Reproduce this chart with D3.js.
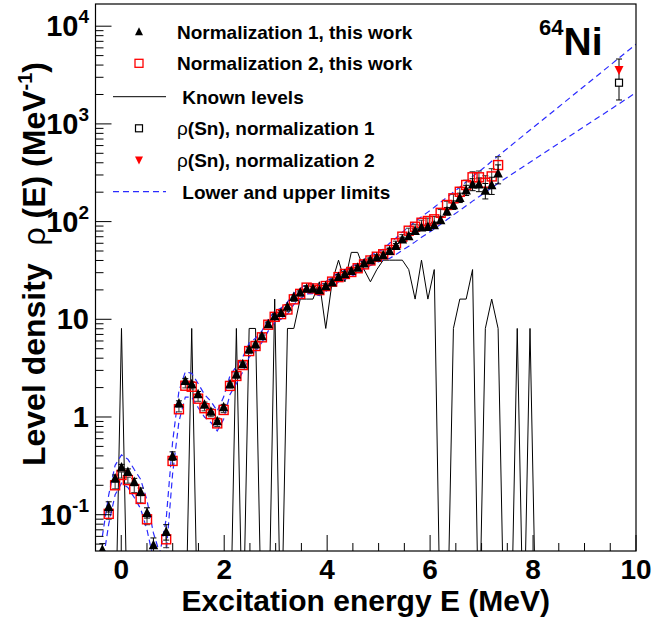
<!DOCTYPE html>
<html><head><meta charset="utf-8">
<script src="https://cdn.jsdelivr.net/npm/d3@7"></script>
<style>
body{margin:0;background:#fff}
svg{display:block}
text{font-family:"Liberation Sans",Arial,Helvetica,sans-serif;font-weight:bold;fill:#000}
</style>
</head><body>
<svg id="c" width="652" height="621"></svg>
<script>
// ---------- data ----------
const binE = [-0.367,-0.243,-0.119,0.005,0.129,0.253,0.377,0.501,0.625,0.749,0.873,0.997,1.121,1.245,1.369,1.493,1.617,1.741,1.865,1.989,2.113,2.237,2.361,2.485,2.609,2.733,2.857,2.981,3.105,3.229,3.353,3.477,3.601,3.725,3.849,3.973,4.097,4.221,4.345,4.469,4.593,4.717,4.841,4.965,5.089,5.213,5.337,5.461,5.585,5.709,5.833,5.957,6.081,6.205,6.329,6.453,6.577,6.701,6.825,6.949,7.073,7.197,7.321,7.445,7.569,7.693,7.817,7.941,8.065,8.189,8.313];
const norm1 = [0.044,0.121,0.236,0.306,0.275,0.218,0.172,0.105,0.049,null,0.067,0.40,1.38,2.35,2.18,1.72,1.34,1.14,0.91,1.27,2.18,2.74,3.49,4.93,5.59,6.75,8.95,10.8,11.7,13.5,17,18.9,20.7,20.7,19.9,21.9,23.9,27.3,29.1,31.4,34,37.4,40.5,43.1,45.5,50.4,56.7,65.9,71.2,80.7,87.4,88.6,92.2,104,128,148,176,210,241,241,208,237,312];
const norm2 = [null,0.102,0.20,0.255,0.226,0.183,0.145,0.0897,null,null,0.056,0.355,1.2,2.09,2.04,1.54,1.23,1.07,0.86,1.18,2.08,2.63,3.4,4.73,5.33,6.54,8.8,10.6,11.3,12.6,16.0,18.2,21.1,20.7,19.9,21.9,24.3,27,29.1,30.5,33.3,36.5,40,43.7,46.3,51.2,60,70.1,80.7,88.6,97.4,101.4,105.5,123,148,173,202,237,284,284,250,290,379];
const relErr = [0.15,0.12,0.08,0.07,0.07,0.08,0.09,0.12,0.18,0,0.18,0.10,
  0.06,0.05,0.05,0.06,0.06,0.06,0.07,0.06,0.05,0.05,0.05,0.05,0.05,0.05,0.05,0.05,0.05,0.05,
  0.05,0.05,0.05,0.05,0.05,0.05,0.05,0.05,0.05,0.05,0.05,0.05,0.05,0.05,0.05,0.05,0.05,0.05,
  0.06,0.06,0.06,0.07,0.07,0.08,0.09,0.10,0.11,0.12,0.14,0.16,0.18,0.20,0.22];
const upperLim = [0.06,0.16,0.32,0.41,0.37,0.29,0.23,0.14,0.065,0.04,0.09,0.55,1.85,2.9,2.8,2.2,1.7,1.45,1.15,1.6,2.65,3.3,4.1,5.7,6.4,7.6,10,12.1,13,15,18.5,20.5,23.3,23,22.2,24.4,26.8,30,32.3,34.5,37.5,41,45,48.5,52,60,68,78,88,100,112,125,140,158,178,200,225,255,290,325,365,415,470];
const lowerLim = [0.03,0.08,0.16,0.21,0.19,0.15,0.115,0.07,0.035,0.02,0.04,0.26,0.9,1.6,1.6,1.25,1.0,0.88,0.72,0.95,1.7,2.2,2.9,4.1,4.7,5.8,7.6,9.3,10,11.3,14.2,16.2,18.2,18.3,17.5,19.3,21.3,24,25.7,27.3,30,32.6,35.5,38,40.5,42,46,51,56,62,69,76,84,94,105,117,130,145,162,180,200,222,247];
const limitEndE = 10, upperEnd = 6530, lowerEnd = 2089;
const knownLevels = [0,0,0,8.06,0,0,0,0,0,0,0,0,0,0,8.06,0,0,0,0,0,0,8.06,0,8.06,8.06,0,0,16.1,0,8.06,8.06,16.1,16.1,16.1,24.2,8.06,24.2,40.3,24.2,48.4,48.4,32.3,24.2,32.3,40.3,40.3,40.3,40.3,32.3,16.1,40.3,16.1,32.3,0,0,8.06,16.1,16.1,32.3,0,8.06,16.1,8.06,0,0,8.06,0,8.06,0,0,0];
const snE = 9.67, snNorm1 = 2640, snNorm2 = 3560, snLow = 1757, snHigh = 4614;
const xTicks = [0,2,4,6,8,10];
const yTicks = [0.1,1,10,100,1000,10000];
const yTickLabels = [["10","-1"],["1",""],["10",""],["10","2"],["10","3"],["10","4"]];
const legendItems = [
  {label:"Normalization 1, this work", kind:"tri"},
  {label:"Normalization 2, this work", kind:"sqRed"},
  {label:" Known levels", kind:"line"},
  {label:"ρ(Sn), normalization 1", kind:"sqBlack"},
  {label:"ρ(Sn), normalization 2", kind:"triDown"},
  {label:" Lower and upper limits", kind:"dash"}
];

// ---------- layout ----------
const M = {l:95.5, r:636, t:4, b:551};
const BLUE = "#2b2bff", RED = "#ff0000";
const x = d3.scaleLinear().domain([-0.5,10]).range([M.l,M.r]);
const y = d3.scaleLog().domain([0.0425,16874]).range([M.b,M.t]);
const svg = d3.select("#c");
svg.append("rect").attr("width",652).attr("height",621).attr("fill","#fff");
svg.append("defs").append("clipPath").attr("id","clip").append("rect")
  .attr("x",M.l).attr("y",M.t).attr("width",M.r-M.l).attr("height",M.b-M.t);
const plot = svg.append("g").attr("clip-path","url(#clip)");

// known levels
const floorVal = 0.004;
const kd = binE.map((e,i)=>[e, knownLevels[i]>0?knownLevels[i]:floorVal]);
plot.append("path").attr("d", d3.line().x(d=>x(d[0])).y(d=>y(d[1]))(kd))
  .attr("fill","none").attr("stroke","#000").attr("stroke-width",1);

// limits
function limPath(vals,endV){
  const pts = vals.map((v,i)=>[binE[i],v]);
  pts.push([limitEndE,endV]);
  return d3.line().x(d=>x(d[0])).y(d=>y(d[1]))(pts);
}
[[upperLim,upperEnd],[lowerLim,lowerEnd]].forEach(([v,e])=>{
  plot.append("path").attr("d",limPath(v,e)).attr("fill","none")
    .attr("stroke",BLUE).attr("stroke-width",1.2).attr("stroke-dasharray","6,4");
});

// error bars
function errBars(vals,color){
  vals.forEach((v,i)=>{
    if(v==null||!relErr[i]) return;
    const cx=x(binE[i]), y1=y(v*(1+relErr[i])), y2=y(v*(1-relErr[i]));
    const g=plot.append("g").attr("stroke",color).attr("stroke-width",1);
    g.append("line").attr("x1",cx).attr("x2",cx).attr("y1",y1).attr("y2",y2);
    g.append("line").attr("x1",cx-3).attr("x2",cx+3).attr("y1",y1).attr("y2",y1);
    g.append("line").attr("x1",cx-3).attr("x2",cx+3).attr("y1",y2).attr("y2",y2);
  });
}
errBars(norm2,"#333");
errBars(norm1,"#000");

const triUp = (cx,cy,s)=>`M${cx},${cy-s*0.55}L${cx+s*0.5},${cy+s*0.45}L${cx-s*0.5},${cy+s*0.45}Z`;
const triDn = (cx,cy,s)=>`M${cx},${cy+s*0.55}L${cx+s*0.5},${cy-s*0.45}L${cx-s*0.5},${cy-s*0.45}Z`;

// markers
norm2.forEach((v,i)=>{
  if(v==null) return;
  plot.append("rect").attr("x",x(binE[i])-4.5).attr("y",y(v)-4.5).attr("width",9).attr("height",9)
    .attr("fill","none").attr("stroke",RED).attr("stroke-width",1.4);
});
norm1.forEach((v,i)=>{
  if(v==null) return;
  plot.append("path").attr("d",triUp(x(binE[i]),y(v),9.5)).attr("fill","#000");
});

// Sn points
{
  const cx=x(snE);
  const g=plot.append("g").attr("stroke","#000").attr("stroke-width",1);
  g.append("line").attr("x1",cx).attr("x2",cx).attr("y1",y(snHigh)).attr("y2",y(snLow));
  g.append("line").attr("x1",cx-3).attr("x2",cx+3).attr("y1",y(snHigh)).attr("y2",y(snHigh));
  g.append("line").attr("x1",cx-3).attr("x2",cx+3).attr("y1",y(snLow)).attr("y2",y(snLow));
  plot.append("path").attr("d",triDn(cx,y(snNorm2),9)).attr("fill",RED);
  plot.append("rect").attr("x",cx-3.5).attr("y",y(snNorm1)-3.5).attr("width",7).attr("height",7)
    .attr("fill","#fff").attr("stroke","#000").attr("stroke-width",1.2);
}

// frame
svg.append("rect").attr("x",M.l).attr("y",M.t).attr("width",M.r-M.l).attr("height",M.b-M.t)
  .attr("fill","none").attr("stroke","#000").attr("stroke-width",1.2);

// x ticks
const ax = svg.append("g").attr("stroke","#000").attr("stroke-width",1);
d3.range(-0.5,10.01,0.5).forEach(v=>{
  const major = xTicks.includes(v);
  ax.append("line").attr("x1",x(v)).attr("x2",x(v)).attr("y1",M.b).attr("y2",M.b-(major?16:8));
});
xTicks.forEach(v=>{
  svg.append("text").attr("x",x(v)).attr("y",579).attr("text-anchor","middle")
    .attr("font-size",28).text(v);
});
// y ticks
for(let e=-2;e<=4;e++){
  for(let k=1;k<=9;k++){
    const v=k*Math.pow(10,e);
    if(v<y.domain()[0]||v>y.domain()[1]) continue;
    const yy=y(v);
    ax.append("line").attr("x1",M.l).attr("x2",M.l+(k===1?16:8)).attr("y1",yy).attr("y2",yy);
  }
}
yTicks.forEach((v,i)=>{
  const t=svg.append("text").attr("x",89).attr("y",y(v)+10).attr("text-anchor","end").attr("font-size",29);
  t.append("tspan").text(yTickLabels[i][0]);
  if(yTickLabels[i][1]) t.append("tspan").attr("dy",-13).attr("font-size",19).text(yTickLabels[i][1]);
});

// axis titles
svg.append("text").attr("x",(M.l+M.r)/2).attr("y",611).attr("text-anchor","middle")
  .attr("font-size",30).text("Excitation energy E (MeV)");
{
  const t=svg.append("text").attr("transform","translate(45,264) rotate(-90)")
    .attr("text-anchor","middle").attr("font-size",32).attr("xml:space","preserve");
  t.append("tspan").text("Level density  ");
  t.append("tspan").attr("font-weight","normal").text("ρ");
  t.append("tspan").text(" (E) (MeV");
  t.append("tspan").attr("dy",-13).attr("font-size",20).text("-1");
  t.append("tspan").attr("dy",13).text(")");
}

// nucleus label
{
  const t=svg.append("text").attr("x",539).attr("y",55);
  t.append("tspan").attr("font-size",22).attr("dy",-20).text("64");
  t.append("tspan").attr("font-size",39).attr("dy",20).text("Ni");
}

// legend
const legY=[31.7,63.3,96.7,128.3,160,191.7];
legendItems.forEach((it,i)=>{
  const yy=legY[i], mx=139;
  if(it.kind==="tri") svg.append("path").attr("d",triUp(mx,yy,8)).attr("fill","#000");
  if(it.kind==="sqRed") svg.append("rect").attr("x",mx-4).attr("y",yy-4).attr("width",8).attr("height",8).attr("fill","none").attr("stroke",RED).attr("stroke-width",1.3);
  if(it.kind==="sqBlack") svg.append("rect").attr("x",mx-3.5).attr("y",yy-3.5).attr("width",7).attr("height",7).attr("fill","none").attr("stroke","#000").attr("stroke-width",1.2);
  if(it.kind==="triDown") svg.append("path").attr("d",triDn(mx,yy,8)).attr("fill",RED);
  if(it.kind==="line") svg.append("line").attr("x1",113).attr("x2",166).attr("y1",yy).attr("y2",yy).attr("stroke","#000").attr("stroke-width",1);
  if(it.kind==="dash") svg.append("line").attr("x1",113).attr("x2",166).attr("y1",yy).attr("y2",yy).attr("stroke",BLUE).attr("stroke-width",1.2).attr("stroke-dasharray","6,4");
  const t=svg.append("text").attr("x",177).attr("y",yy+7).attr("font-size",19).attr("xml:space","preserve");
  if(it.label.startsWith("ρ")){
    t.append("tspan").attr("font-weight","normal").text("ρ");
    t.append("tspan").text(it.label.slice(1));
  } else t.text(it.label);
});
</script>
</body></html>
